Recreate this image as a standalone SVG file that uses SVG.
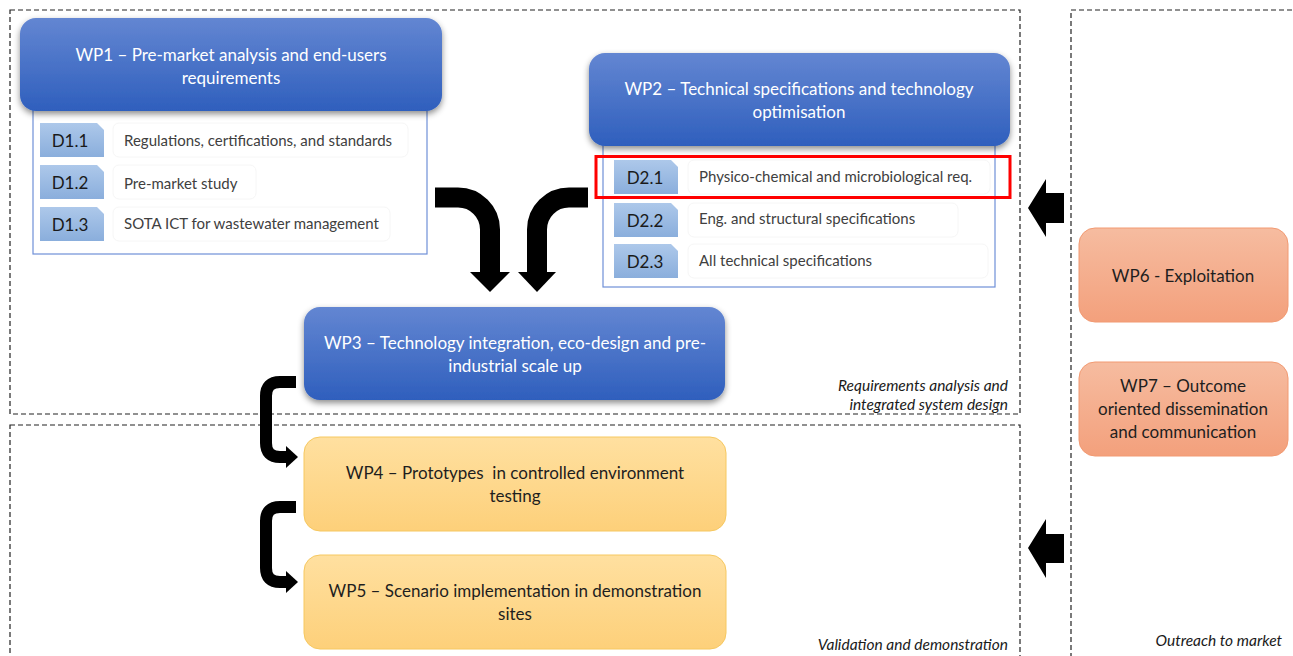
<svg xmlns="http://www.w3.org/2000/svg" width="1293" height="656" viewBox="0 0 1293 656">
<defs>
<linearGradient id="gBlue" x1="0" y1="0" x2="0" y2="1"><stop offset="0" stop-color="#6386d2"/><stop offset="1" stop-color="#2f5fbd"/></linearGradient>
<linearGradient id="gYel" x1="0" y1="0" x2="0" y2="1"><stop offset="0" stop-color="#ffe0a0"/><stop offset="1" stop-color="#fdd07a"/></linearGradient>
<linearGradient id="gOr" x1="0" y1="0" x2="0" y2="1"><stop offset="0" stop-color="#f6bca0"/><stop offset="1" stop-color="#f3a07c"/></linearGradient>
<linearGradient id="gTab" x1="0" y1="0" x2="0" y2="1"><stop offset="0" stop-color="#adc8ea"/><stop offset="1" stop-color="#8aaedc"/></linearGradient>
<filter id="sh" x="-10%" y="-20%" width="120%" height="150%"><feDropShadow dx="0" dy="3" stdDeviation="3" flood-color="#000" flood-opacity="0.45"/></filter>
</defs>
<style>
.reg{fill:none;stroke:#222;stroke-width:1.2;stroke-dasharray:5 3}
.blue{fill:url(#gBlue);filter:url(#sh)}
.yel{fill:url(#gYel);stroke:#f6c860;stroke-width:1}
.or{fill:url(#gOr);stroke:#f29a72;stroke-width:1}
.cont{fill:#fff;stroke:#6f90d8;stroke-width:1.2}
.tab{fill:url(#gTab)}
.dbox{fill:#fff;stroke:#f6f6f6;stroke-width:1}
.wt{font-family:Lato,"Liberation Sans",sans-serif;font-size:17px;fill:#fff;text-anchor:middle}
.dt{font-family:Lato,"Liberation Sans",sans-serif;font-size:17px;fill:#1e1e1e;text-anchor:middle}
.tl{font-family:Lato,"Liberation Sans",sans-serif;font-size:17px;fill:#1a1a1a;text-anchor:middle}
.tx{font-family:Lato,"Liberation Sans",sans-serif;font-size:15px;fill:#404040}
.it{font-family:Lato,"Liberation Sans",sans-serif;font-size:15.5px;font-style:italic;fill:#1a1a1a;text-anchor:end}
.arr{fill:none;stroke:#000}
</style>
<rect width="1293" height="656" fill="#fff"/>
<g id="regions">
<rect class="reg" x="10" y="10" width="1010" height="404"/>
<rect class="reg" x="10" y="425" width="1010" height="240"/>
<rect class="reg" x="1071" y="10" width="240" height="660"/>
<text class="it" x="1008" y="391">Requirements analysis and</text>
<text class="it" x="1008" y="410">integrated system design</text>
<text class="it" x="1008" y="650">Validation and demonstration</text>
<text class="it" x="1282" y="646">Outreach to market</text>
</g>
<g id="wp1">
<rect class="cont" x="33" y="100" width="394" height="154"/>
<rect class="blue" x="20" y="18" width="422" height="93" rx="16"/>
<text class="wt" x="231" y="61">WP1 – Pre-market analysis and end-users</text>
<text class="wt" x="231" y="84">requirements</text>
<g id="d11"><rect class="dbox" x="113" y="123" width="295" height="34" rx="6"/><path class="tab" d="M40,123H97L104,130V157H40Z"/><text class="tl" x="70" y="147">D1.1</text><text class="tx" x="124" y="146">Regulations, certifications, and standards</text></g>
<g id="d12"><rect class="dbox" x="113" y="165" width="143" height="34" rx="6"/><path class="tab" d="M40,165H97L104,172V199H40Z"/><text class="tl" x="70" y="189">D1.2</text><text class="tx" x="124" y="189">Pre-market study</text></g>
<g id="d13"><rect class="dbox" x="113" y="207" width="277" height="34" rx="6"/><path class="tab" d="M40,207H97L104,214V241H40Z"/><text class="tl" x="70" y="231">D1.3</text><text class="tx" x="124" y="229">SOTA ICT for wastewater management</text></g>
</g>
<g id="wp2">
<rect class="cont" x="603" y="135" width="392" height="152"/>
<rect class="blue" x="589" y="53" width="421" height="93" rx="16"/>
<text class="wt" x="799" y="95">WP2 – Technical specifications and technology</text>
<text class="wt" x="799" y="118">optimisation</text>
<g id="d21"><rect class="dbox" x="688" y="160" width="302" height="34" rx="6"/><path class="tab" d="M614,160H671L678,167V194H614Z"/><text class="tl" x="645" y="184">D2.1</text><text class="tx" x="699" y="182">Physico-chemical and microbiological req.</text></g>
<g id="d22"><rect class="dbox" x="688" y="203" width="270" height="34" rx="6"/><path class="tab" d="M614,203H671L678,210V237H614Z"/><text class="tl" x="645" y="227">D2.2</text><text class="tx" x="699" y="224">Eng. and structural specifications</text></g>
<g id="d23"><rect class="dbox" x="688" y="244" width="300" height="34" rx="6"/><path class="tab" d="M614,244H671L678,251V278H614Z"/><text class="tl" x="645" y="268">D2.3</text><text class="tx" x="699" y="266">All technical specifications</text></g>
<rect id="highlight" x="596" y="156.5" width="414" height="41" fill="none" stroke="#ff0000" stroke-width="3"/>
</g>
<g id="wp3">
<rect class="blue" x="304" y="307" width="421" height="93" rx="16"/>
<text class="wt" x="515" y="349">WP3 – Technology integration, eco-design and pre-</text>
<text class="wt" x="515" y="372">industrial scale up</text>
</g>
<g id="wp4">
<rect class="yel" x="304" y="437" width="422" height="94" rx="16"/>
<text class="dt" x="515" y="479" xml:space="preserve">WP4 – Prototypes  in controlled environment</text>
<text class="dt" x="515" y="502">testing</text>
</g>
<g id="wp5">
<rect class="yel" x="304" y="555" width="422" height="94" rx="16"/>
<text class="dt" x="515" y="597">WP5 – Scenario implementation in demonstration</text>
<text class="dt" x="515" y="620">sites</text>
</g>
<g id="wp6">
<rect class="or" x="1079" y="228" width="209" height="94" rx="16"/>
<text class="dt" x="1183" y="282">WP6 - Exploitation</text>
</g>
<g id="wp7">
<rect class="or" x="1079" y="362" width="209" height="94" rx="16"/>
<text class="dt" x="1183" y="392">WP7 – Outcome</text>
<text class="dt" x="1183" y="415">oriented dissemination</text>
<text class="dt" x="1183" y="438">and communication</text>
</g>
<g id="connectors">
<path class="arr" stroke-width="20" d="M435,197.5H458A32,32 0 0 1 490,229.5V274"/>
<polygon points="470,272 510,272 490,292"/>
<path class="arr" stroke-width="20" d="M588,197.5H569A32,32 0 0 0 537,229.5V274"/>
<polygon points="518,272 556,272 537,292"/>
<path class="arr" stroke-width="12" d="M296,382H280Q266,382 266,396V443Q266,457 280,457H288"/>
<polygon points="286,446 286,468 298,457"/>
<path class="arr" stroke-width="12" d="M296,507H280Q266,507 266,521V568Q266,582 280,582H288"/>
<polygon points="286,571 286,593 298,582"/>
<polygon points="1064,193 1046,193 1046,179 1028,208 1046,237 1046,223 1064,223"/>
<polygon points="1064,534 1046,534 1046,519 1028,548 1046,578 1046,563 1064,563"/>
</g>
</svg>
